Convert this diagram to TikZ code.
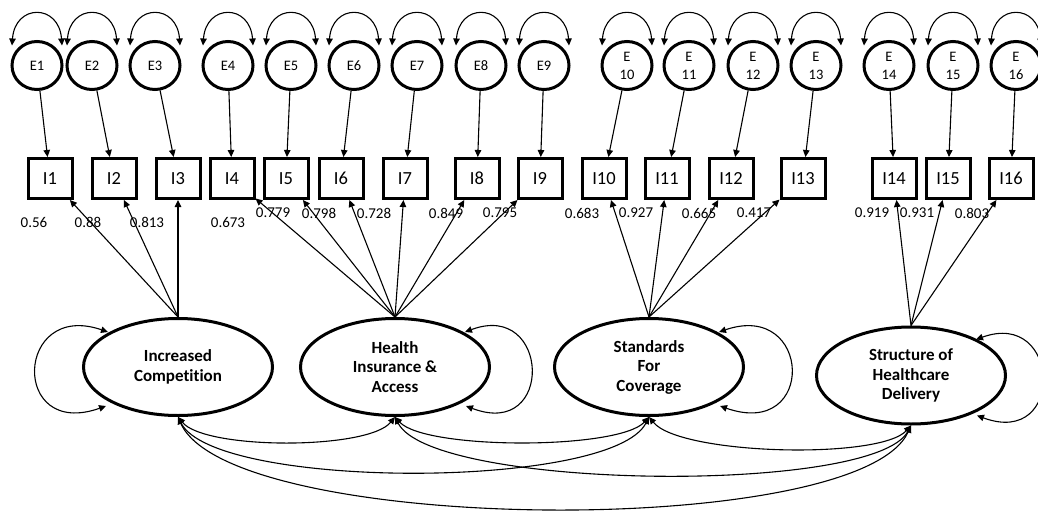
\documentclass[tikz,border=0pt]{standalone}
\usepackage{fontspec}
\setmainfont{Carlito}[Ligatures={NoCommon}]
\usetikzlibrary{arrows.meta,shapes.geometric,calc}

\begin{document}
\begin{tikzpicture}[x=1pt,y=-1pt,
  errnode/.style={draw,ellipse,line width=3pt,minimum width=50pt,minimum height=48pt,
    inner sep=0pt,align=center,font=\fontsize{14.5}{18}\selectfont},
  indnode/.style={draw,rectangle,line width=3pt,minimum width=44pt,minimum height=40pt,
    inner sep=0pt,font=\fontsize{18.5}{20}\selectfont},
  latnode/.style={draw,ellipse,line width=3pt,minimum width=189pt,minimum height=97pt,
    inner sep=0pt,align=center,font=\bfseries\fontsize{17}{19.5}\selectfont},
  tipshape/.tip={Triangle[length=7pt,width=6.5pt]},
  arr/.style={line width=1.1pt,-tipshape},
  dbl/.style={line width=1.1pt,tipshape-tipshape},
  loadlbl/.style={inner sep=0pt,font=\fontsize{15}{17}\selectfont}
]
\useasboundingbox (0,0) rectangle (1038,511);

% error terms
\foreach \n/\x/\t in {1/37/E1,2/92/E2,3/155/E3,4/228/E4,5/291/E5,6/354/E6,7/417/E7,8/481/E8,
  9/544/E9,10/627/E\\10,11/689/E\\11,12/753/E\\12,13/816/E\\13,14/889/E\\14,15/953/E\\15,16/1016/E\\16}
  \node[errnode] (E\n) at (\x,65.5) {\t};

% indicators
\foreach \n/\x in {1/50,2/114,3/178,4/232,5/286,6/341,7/405,8/477,9/540,10/604,11/667,
  12/731,13/803,14/894,15/948,16/1011}
  \node[indnode] (I\n) at (\x,178.5) {I\n};

% latent factors
\node[latnode] (IC)  at (178,367)   {Increased\\Competition};
\node[latnode] (HIA) at (395,367)   {Health\\Insurance \&\\Access};
\node[latnode] (SFC) at (649,367)   {Standards\\For\\Coverage};
\node[latnode] (SHD) at (911,375.5) {Structure of\\Healthcare\\Delivery};

% error variances and error paths
\foreach \n in {1,...,16}{
  \draw[dbl] ($(E\n)+(-25,-20)$) .. controls ($(E\n)+(-22,-62)$) and ($(E\n)+(22,-62)$) .. ($(E\n)+(25,-20)$);
  \draw[arr] (E\n) -- (I\n);
}

% factor loadings
\foreach \n in {1,2,3}    \draw[arr] (IC.north) -- (I\n);
\foreach \n in {4,...,9}  \draw[arr] (HIA.north) -- (I\n);
\foreach \n in {10,...,13}\draw[arr] (SFC.north) -- (I\n);
\foreach \n in {14,15,16} \draw[arr] (SHD.north) -- (I\n);

% loading values
\node[loadlbl] (L1)  at (34,222)  {0.56};
\node[loadlbl] (L2)  at (88,222)  {0.88};
\node[loadlbl] (L3)  at (147,222) {0.813};
\node[loadlbl] (L4)  at (228,222) {0.673};
\node[loadlbl] (L5)  at (273,213) {0.779};
\node[loadlbl] (L6)  at (319,213) {0.798};
\node[loadlbl] (L7)  at (374,213) {0.728};
\node[loadlbl] (L8)  at (446,213) {0.849};
\node[loadlbl] (L9)  at (500,213) {0.795};
\node[loadlbl] (L10) at (582,213) {0.683};
\node[loadlbl] (L11) at (636,213) {0.927};
\node[loadlbl] (L12) at (699,213) {0.665};
\node[loadlbl] (L13) at (754,213) {0.417};
\node[loadlbl] (L14) at (872,213) {0.919};
\node[loadlbl] (L15) at (917,213) {0.931};
\node[loadlbl] (L16) at (972,213) {0.803};

% factor variances
\draw[dbl] ($(IC)+(-70,-35)$) .. controls ($(IC)+(-163,-67)$) and ($(IC)+(-168,73)$) .. ($(IC)+(-72,39)$);
\draw[dbl] ($(HIA)+(70,-35)$) .. controls ($(HIA)+(155,-67)$) and ($(HIA)+(160,73)$) .. ($(HIA)+(71,39)$);
\draw[dbl] ($(SFC)+(70,-35)$) .. controls ($(SFC)+(163,-67)$) and ($(SFC)+(168,73)$) .. ($(SFC)+(71,39)$);
\draw[dbl] ($(SHD)+(65,-36)$) .. controls ($(SHD)+(150,-67)$) and ($(SHD)+(155,73)$) .. ($(SHD)+(66,40)$);

% factor covariances
\draw[dbl] (IC.south)  .. controls (205,450) and (368,450) .. (HIA.south);
\draw[dbl] (IC.south)  .. controls (215,490) and (612,490) .. (SFC.south);
\draw[dbl] (IC.south)  .. controls (230,535) and (860,540) .. (SHD.south);
\draw[dbl] (HIA.south) .. controls (425,450) and (619,450) .. (SFC.south);
\draw[dbl] (HIA.south) .. controls (432,490) and (874,495) .. (SHD.south);
\draw[dbl] (SFC.south) .. controls (680,455) and (880,460) .. (SHD.south);
\end{tikzpicture}
\end{document}
